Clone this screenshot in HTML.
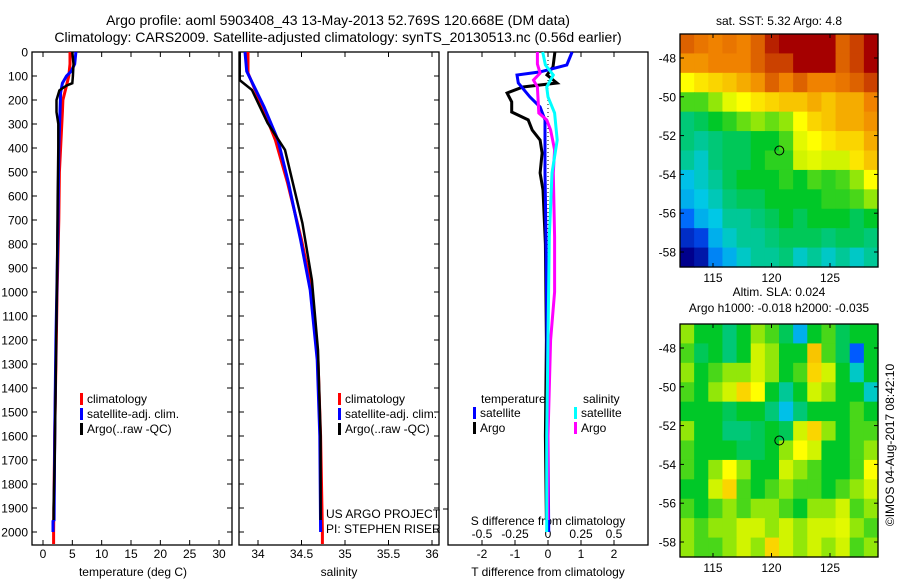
<!DOCTYPE html>
<html><head><meta charset="utf-8">
<style>
html,body{margin:0;padding:0;background:#fff;}
svg{display:block;font-family:"Liberation Sans",sans-serif;}
text{font-size:12px;fill:#000;}
</style></head>
<body>
<svg id="chart" width="900" height="580" viewBox="0 0 900 580">
<text x="338" y="25" text-anchor="middle" style="font-size:14px">Argo profile: aoml 5903408_43 13-May-2013 52.769S 120.668E (DM data)</text>
<text x="338" y="42" text-anchor="middle" style="font-size:14px">Climatology: CARS2009. Satellite-adjusted climatology: synTS_20130513.nc (0.56d earlier)</text>
</svg>
<script>
// ---------- data ----------
const depthTicks=[0,100,200,300,400,500,600,700,800,900,1000,1100,1200,1300,1400,1500,1600,1700,1800,1900,2000];
const tempTicks=[0,5,10,15,20,25,30];
const salTicks=[34,34.5,35,35.5,36];
const salTickLabels=["34","34.5","35","35.5","36"];
const tdiffTicks=[-2,-1,0,1,2];
const sdiffTicks=[-0.5,-0.25,0,0.25,0.5];
const sdiffLabels=["-0.5","-0.25","0","0.25","0.5"];
const lonTicks=[115,120,125];
const latTicks=[-48,-50,-52,-54,-56,-58];

const tempClimDepth=[0,50,100,150,200,250,400,500,700,1000,1300,1600,2000,2050];
const tempClim=[4.6,4.6,4.4,3.9,3.4,3.3,3.0,2.8,2.7,2.4,2.2,2.0,1.8,1.8];
const tempSatDepth=[0,50,80,100,130,170,250,400,600,800,1200,1600,1950,1955,2000];
const tempSat=[5.6,5.4,4.8,4.0,3.3,3.0,2.9,2.7,2.6,2.5,2.2,2.0,1.9,1.7,1.7];
const tempArgoDepth=[0,50,100,130,140,160,200,250,300,400,600,900,1300,1700,1900,1950];
const tempArgo=[5.0,5.2,5.1,5.0,4.0,2.8,2.3,2.3,2.6,2.6,2.5,2.4,2.2,2.0,1.8,1.8];

const salClimDepth=[0,88,229,367,546,783,992,1283,1600,2000,2050];
const salClim=[33.885,33.885,34.05,34.2,34.34,34.5,34.62,34.69,34.72,34.74,34.74];
const salSatDepth=[0,80,229,367,546,783,992,1283,1600,2000];
const salSat=[33.85,33.87,34.07,34.23,34.35,34.49,34.6,34.68,34.71,34.72];
const salArgoDepth=[0,117,158,296,408,713,950,1242,1600,1950];
const salArgo=[33.79,33.79,33.93,34.11,34.31,34.51,34.62,34.69,34.72,34.72];

const dTsatDepth=[0,54,83,96,129,187,229,283,504,771,1200,1600,2000];
const dTsat=[0.73,0.57,-0.24,-0.94,-0.9,-0.55,-0.24,-0.09,-0.09,-0.06,-0.03,0,0.02];
const dTargoDepth=[0,62,96,129,146,171,208,250,283,325,367,421,504,575,800,1200,1600,1950];
const dTargo=[0.21,0.15,-0.03,0.27,-0.76,-1.24,-1.1,-1.1,-0.6,-0.48,-0.24,-0.18,-0.24,-0.15,-0.08,-0.05,-0.08,-0.05];
const dSsatDepth=[0,54,96,146,187,254,367,504,771,1200,1600,2000];
const dSsat=[-0.04,-0.02,0.04,-0.01,0,0.05,0.07,0.03,0.01,0.0,-0.01,-0.01];
const dSargoDepth=[0,50,88,117,146,254,283,325,408,504,771,1000,1200,1600,1950];
const dSargo=[-0.08,-0.08,-0.06,-0.11,-0.08,-0.07,-0.01,0.02,0.05,0.04,0.05,0.05,0.02,0.0,0.0];

const sstGrid=[
[.85,.82,.8,.82,.8,.85,.95,1,1,1,1,.85,.9,1],
[.78,.78,.8,.8,.8,.85,.9,.9,1,1,1,.85,.9,1],
[.65,.68,.7,.72,.75,.78,.85,.8,.85,.8,.8,.82,.85,.9],
[.5,.5,.55,.62,.65,.68,.7,.72,.72,.75,.72,.75,.75,.8],
[.4,.42,.45,.48,.52,.55,.52,.55,.65,.7,.72,.75,.75,.78],
[.4,.38,.4,.42,.42,.45,.45,.5,.62,.65,.68,.7,.7,.75],
[.38,.35,.4,.42,.42,.45,.48,.48,.6,.62,.6,.6,.68,.72],
[.32,.35,.38,.42,.45,.45,.45,.48,.45,.5,.48,.5,.55,.65],
[.3,.33,.36,.4,.42,.42,.45,.45,.45,.45,.48,.48,.5,.55],
[.22,.3,.33,.38,.38,.4,.42,.45,.42,.45,.45,.45,.42,.45],
[.1,.15,.3,.35,.38,.38,.4,.42,.42,.42,.4,.42,.42,.4],
[0,.05,.25,.3,.35,.38,.38,.4,.35,.38,.35,.38,.35,.38]];
const slaGrid=[
[.55,.45,.45,.4,.45,.55,.5,.42,.3,.45,.5,.42,.45,.45],
[.5,.42,.45,.4,.45,.6,.55,.45,.45,.72,.5,.42,.2,.45],
[.55,.45,.5,.55,.55,.6,.55,.45,.5,.7,.6,.45,.35,.45],
[.5,.45,.55,.6,.7,.65,.45,.38,.45,.6,.55,.45,.45,.35],
[.45,.45,.45,.42,.45,.45,.4,.32,.4,.45,.45,.45,.5,.45],
[.55,.45,.45,.4,.4,.42,.45,.42,.6,.7,.55,.45,.5,.5],
[.5,.45,.45,.45,.42,.42,.45,.55,.65,.6,.45,.45,.5,.55],
[.5,.45,.55,.65,.55,.45,.45,.6,.55,.5,.45,.45,.5,.65],
[.45,.45,.6,.7,.5,.45,.5,.55,.5,.5,.45,.5,.55,.6],
[.5,.45,.5,.55,.5,.55,.55,.5,.45,.55,.55,.6,.5,.55],
[.55,.5,.55,.55,.6,.6,.55,.6,.55,.6,.6,.62,.55,.5],
[.55,.5,.5,.55,.6,.55,.7,.6,.55,.6,.55,.6,.5,.55]];
const floatLon=120.668, floatLat=-52.769;

// ---------- helpers ----------
const NS="http://www.w3.org/2000/svg";
const svg=document.getElementById('chart');
function el(tag,attrs,parent){const e=document.createElementNS(NS,tag);for(const k in attrs)e.setAttribute(k,attrs[k]);(parent||svg).appendChild(e);return e;}
function txt(x,y,s,anchor,parent){const t=el('text',{x:x,y:y,'text-anchor':anchor||'start'},parent);t.textContent=s;return t;}
const yD=d=>52+d*0.24;
const xT=t=>43+t*5.867;
const xS=s=>258+(s-34)*87;
const xdT=t=>548+t*33;
const xdS=s=>548+s*132;
const PT=52,PB=545;

function panel(name,x0,x1){
  const r=el('rect',{x:x0,y:PT,width:x1-x0,height:PB-PT,fill:'none',stroke:'#000','stroke-width':1.3});
  
  
}
function line(name,xs,ds,fx,color,w){
  const pts=xs.map((v,i)=>fx(v).toFixed(1)+','+yD(ds[i]).toFixed(1)).join(' ');
  const p=el('polyline',{points:pts,fill:'none',stroke:color,'stroke-width':w||3,'stroke-linejoin':'miter'});
  
  
}
function xticks(name,vals,labels,fx,labelY,showLabels){
  const g=el('g',{});
  
  
  vals.forEach((v,i)=>{const x=fx(v);
    el('line',{x1:x,x2:x,y1:PB,y2:PB-5,stroke:'#000'},g);
    el('line',{x1:x,x2:x,y1:PT,y2:PT+5,stroke:'#000'},g);
    if(showLabels)txt(x,labelY,labels[i],'middle',g);});
}
function legend(name,x,y,items){
  const g=el('g',{});
  
  
  items.forEach((it,i)=>{
    el('rect',{x:x,y:y+i*15-10,width:3,height:12,fill:it[1]},g);
    txt(x+7,y+i*15,it[0],'start',g);});
}

// ---------- panel 1 ----------
panel('temperature-panel',32,232);
const yg=el('g',{});


depthTicks.forEach(d=>{const y=yD(d);
  el('line',{x1:32,x2:37,y1:y,y2:y,stroke:'#000'},yg);
  el('line',{x1:227,x2:232,y1:y,y2:y,stroke:'#000'},yg);
  el('line',{x1:239,x2:244,y1:y,y2:y,stroke:'#000'},yg);
  el('line',{x1:434,x2:439,y1:y,y2:y,stroke:'#000'},yg);
  txt(28,y+4.5,String(d),'end',yg);});
xticks('temperature-axis',tempTicks,tempTicks.map(String),xT,558,true);
txt(133,576,'temperature (deg C)','middle');
line('temp-climatology',tempClim,tempClimDepth,xT,'#ff0000');
line('temp-satellite-adj',tempSat,tempSatDepth,xT,'#0000ff');
line('temp-argo',tempArgo,tempArgoDepth,xT,'#000000',2.5);
legend('temperature-legend',80,403,[['climatology','#f00'],['satellite-adj. clim.','#00f'],['Argo(..raw -QC)','#000']]);

// ---------- panel 2 ----------
panel('salinity-panel',239,439);
xticks('salinity-axis',salTicks,salTickLabels,xS,558,true);
txt(339,576,'salinity','middle');
line('sal-climatology',salClim,salClimDepth,xS,'#ff0000');
line('sal-satellite-adj',salSat,salSatDepth,xS,'#0000ff');
line('sal-argo',salArgo,salArgoDepth,xS,'#000000',2.5);
legend('salinity-legend',338,403,[['climatology','#f00'],['satellite-adj. clim.','#00f'],['Argo(..raw -QC)','#000']]);
txt(326,518,'US ARGO PROJECT');
txt(326,533,'PI: STEPHEN RISER');

// ---------- panel 3 ----------
panel('difference-panel',448,648);
xticks('tdiff-axis',tdiffTicks,tdiffTicks.map(String),xdT,558,true);
txt(548,576,'T difference from climatology','middle');
const sg=el('g',{});


sdiffTicks.forEach((v,i)=>txt(xdS(v),538,sdiffLabels[i],'middle',sg));
txt(548,525,'S difference from climatology','middle');
el('line',{x1:448,x2:443,y1:509,y2:509,stroke:'#000'});
const zl=el('line',{x1:548,x2:548,y1:PT,y2:350,stroke:'#000','stroke-dasharray':'1,3'});


line('dT-argo',dTargo,dTargoDepth,xdT,'#000000');
line('dT-satellite',dTsat,dTsatDepth,xdT,'#0000ff');
line('dS-argo',dSargo,dSargoDepth,xdS,'#ff00ff');
line('dS-satellite',dSsat,dSsatDepth,xdS,'#00ffff');
txt(481,403,'temperature');
txt(583,403,'salinity');
legend('temp-diff-legend',473,417,[['satellite','#00f'],['Argo','#000']]);
legend('sal-diff-legend',574,417,[['satellite','#0ff'],['Argo','#f0f']]);

// ---------- maps ----------
const cmapStops=[[0,[0,0,140]],[0.2,[0,90,255]],[0.33,[0,200,230]],[0.45,[0,200,40]],[0.58,[190,240,0]],[0.65,[255,255,0]],[0.8,[240,130,0]],[1,[165,0,0]]];
function cmap(v){
  for(let i=1;i<cmapStops.length;i++){
    if(v<=cmapStops[i][0]){const a=cmapStops[i-1],b=cmapStops[i];const f=(v-a[0])/(b[0]-a[0]);
      return 'rgb('+a[1].map((c,k)=>Math.round(c+(b[1][k]-c)*f)).join(',')+')';}
  }
  return 'rgb(165,0,0)';
}
function map(name,grid,top,title1,title2){
  const L=680,R=878,T=top,B=top+233;
  const lonX=lo=>713+(lo-115)*11.7;
  const latY=la=>top+24+(-48-la)*19.4;
  const g=el('g',{});
  
  
  const rows=grid.length,cols=grid[0].length;
  const cw=(R-L)/cols,ch=(B-T)/rows;
  grid.forEach((row,i)=>row.forEach((v,j)=>{
    const c=el('rect',{x:L+j*cw,y:T+i*ch,width:cw+0.6,height:ch+0.6,fill:cmap(v)},g);
    
    
  }));
  el('rect',{x:L,y:T,width:R-L,height:B-T,fill:'none',stroke:'#000','stroke-width':1.3},g);
  lonTicks.forEach(lo=>{const x=lonX(lo);
    el('line',{x1:x,x2:x,y1:B,y2:B-4,stroke:'#000'},g);
    el('line',{x1:x,x2:x,y1:T,y2:T+4,stroke:'#000'},g);
    txt(x,B+15,String(lo),'middle',g);});
  latTicks.forEach(la=>{const y=latY(la);
    el('line',{x1:L,x2:L+4,y1:y,y2:y,stroke:'#000'},g);
    el('line',{x1:R,x2:R-4,y1:y,y2:y,stroke:'#000'},g);
    txt(L-4,y+4.5,String(la),'end',g);});
  const m=el('circle',{cx:lonX(floatLon),cy:latY(floatLat),r:4.5,fill:'none',stroke:'#000','stroke-width':1},g);
  
  
  if(title2){txt(779,top-28,title1,'middle',g);txt(779,top-12,title2,'middle',g);}
  else txt(779,top-9,title1,'middle',g);
}
map('sst-map',sstGrid,34,'sat. SST: 5.32 Argo: 4.8');
map('sla-map',slaGrid,324,'Altim. SLA: 0.024','Argo h1000: -0.018 h2000: -0.035');
const cp=txt(0,0,'©IMOS 04-Aug-2017 08:42:10','middle');
cp.setAttribute('transform','translate(894,445) rotate(-90)');

</script>
</body></html>
